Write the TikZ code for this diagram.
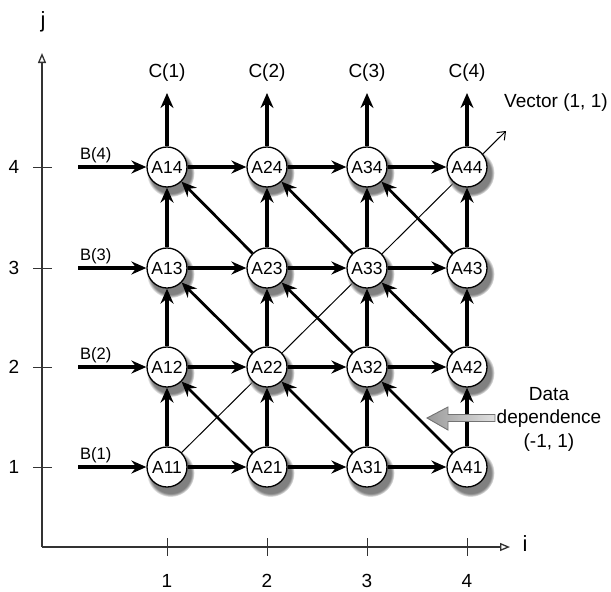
\documentclass[tikz,border=0pt]{standalone}
\usepackage{fontspec}
\setmainfont{Liberation Sans}
\usetikzlibrary{arrows.meta,shadows}
\pgfdeclarelayer{background}
\pgfsetlayers{background,main}
\begin{document}
\begin{tikzpicture}[x=1pt,y=-1pt,
  cell/.style={circle,draw,line width=1.3pt,fill=white,minimum size=40pt,inner sep=0pt,
    font=\fontsize{17.5}{17.5}\selectfont,
    circular drop shadow={shadow xshift=3pt,shadow yshift=-5pt,shadow scale=1.2}},
  flow/.style={line width=3.3pt,-{Stealth[length=15pt,width=13pt,inset=5pt]}},
  diag/.style={line width=2.8pt,-{Stealth[length=15pt,width=13pt,inset=5pt]}},
  axis/.style={line width=1.3pt,draw=black!80,-{Triangle[open,length=10pt,width=8pt]}},
  tick/.style={line width=1pt,draw=black!80},
  lab/.style={font=\fontsize{19}{19}\selectfont,inner sep=0pt},
  blab/.style={font=\fontsize{16.5}{16.5}\selectfont,inner sep=0pt,anchor=west},
  clab/.style={font=\fontsize{19}{19}\selectfont,inner sep=0pt},
  vec/.style={line width=1pt,-{Straight Barb[length=7pt,width=11pt]}},
]
\useasboundingbox (0,0) rectangle (611,592);

% axes
\coordinate (O) at (42,547);
\coordinate (jtip) at (42,53);
\coordinate (itip) at (510,547);
\draw[axis] (O) -- (jtip);
\draw[axis] (O) -- (itip);
\node[lab,font=\fontsize{22}{22}\selectfont] (jlab) at (43,22) {j};
\node[lab,font=\fontsize{22}{22}\selectfont] (ilab) at (525,544) {i};

% ticks and numbers
\foreach \k/\x in {1/167,2/267,3/367,4/467}{
  \draw[tick] (\x,538) -- (\x,556);
  \node[lab] (xn\k) at (\x,581) {\k};
}
\foreach \k/\y in {1/467,2/367,3/268,4/167}{
  \draw[tick] (33,\y) -- (52,\y);
  \node[lab] (yn\k) at (14,\y) {\k};
}

% cells
\foreach \i/\x in {1/167,2/267,3/367,4/467}{
  \foreach \j/\y in {1/467,2/367,3/268,4/167}{
    \node[cell] (A\i\j) at (\x,\y) {A\i\j};
  }
}

% vector (1,1)
\coordinate (vtip) at (506,131);
\begin{pgfonlayer}{background}
\draw[vec] (A11.center) -- (vtip);
\end{pgfonlayer}
\node[clab,anchor=west] (vlab) at (504,103) {Vector (1, 1)};

% horizontal and vertical flows
\foreach \i/\n in {1/2,2/3,3/4}{
  \foreach \j in {1,2,3,4}{
    \draw[flow] (A\i\j) -- (A\n\j);
    \draw[flow] (A\j\i) -- (A\j\n);
  }
}
% diagonal dependences
\foreach \i/\n in {1/2,2/3,3/4}{
  \foreach \j/\m in {1/2,2/3,3/4}{
    \draw[diag] (A\n\j) -- (A\i\m);
  }
}

% inputs B
\foreach \j/\y in {1/467,2/367,3/268,4/167}{
  \coordinate (bs\j) at (78,\y);
  \draw[flow] (bs\j) -- (A1\j);
  \node[blab] (B\j) at (80,\y-12) {B(\j)};
}
% outputs C
\foreach \i/\x in {1/167,2/267,3/367,4/467}{
  \coordinate (ce\i) at (\x,93);
  \draw[flow] (A\i4) -- (ce\i);
  \node[clab] (C\i) at (\x,73) {C(\i)};
}

% data dependence arrow
\path[left color=black!40,right color=black!12,draw=black!55,line width=0.9pt]
  (427,418) -- (448,407) -- (448,414.5) -- (495,414.5) -- (495,421.5)
  -- (448,421.5) -- (448,430) -- cycle;
\node[clab,align=center,font=\fontsize{19}{23.5}\selectfont] (dd) at (549,419) {Data\\dependence\\(-1, 1)};
\end{tikzpicture}
\end{document}
